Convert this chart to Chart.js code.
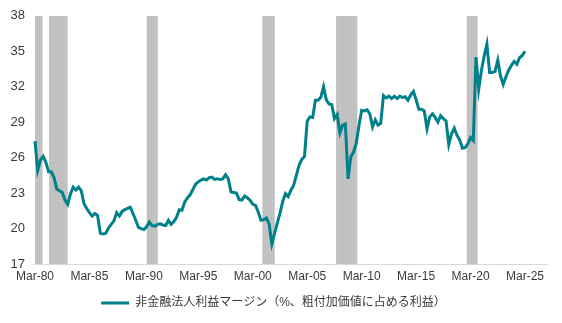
<!DOCTYPE html>
<html>
<head>
<meta charset="utf-8">
<script src="https://cdn.jsdelivr.net/npm/chart.js@4/dist/chart.umd.min.js"></script>
<style>
    body { margin: 0; background: #ffffff; }
    #marginChart { display: block; }
</style>
</head>
<body>
<canvas id="marginChart" width="562" height="323"></canvas>
<script>
// Quarterly series, first point is Mar-80 (1980 Q1)
const startYear = 1980;
const profitMargin = [
    27.4, 24.95, 25.8, 26.1, 25.6, 24.8, 24.8, 24.3, 23.35, 23.2,
    23.05, 22.4, 22.05, 22.9, 23.5, 23.25, 23.5, 23.2, 22.1, 21.7,
    21.35, 21.05, 21.27, 21.1, 19.6, 19.55, 19.6, 20.05, 20.35, 20.65,
    21.35, 21.05, 21.45, 21.6, 21.7, 21.8, 21.27, 20.7, 20.1, 20.0,
    19.92, 20.15, 20.55, 20.25, 20.2, 20.35, 20.4, 20.3, 20.25, 20.7,
    20.35, 20.6, 20.95, 21.6, 21.55, 22.25, 22.6, 22.85, 23.3, 23.75,
    23.95, 24.1, 24.2, 24.1, 24.3, 24.35, 24.15, 24.2, 24.15, 24.2,
    24.55, 24.2, 23.1, 23.05, 23.0, 22.45, 22.4, 22.75, 22.6, 22.4,
    22.05, 21.95, 21.4, 20.7, 20.75, 20.9, 20.4, 18.7, 19.6, 20.45,
    21.3, 22.3, 22.95, 22.7, 23.25, 23.65, 24.5, 25.35, 25.85, 26.1,
    29.1, 29.45, 29.4, 30.85, 30.85, 31.1, 32.0, 30.9, 30.55, 30.5,
    29.3, 29.65, 28.1, 28.75, 28.85, 24.2, 26.05, 26.45, 27.2, 28.7,
    30.0, 29.95, 30.05, 29.7, 28.6, 29.2, 28.75, 28.9, 31.25, 31.05,
    31.2, 31.0, 31.2, 31.0, 31.2, 31.1, 31.15, 30.85, 31.3, 31.6,
    30.9, 30.1, 30.1, 29.95, 28.45, 29.45, 29.7, 29.4, 29.0, 29.55,
    29.3, 29.1, 27.1, 28.0, 28.5, 27.9, 27.5, 26.8, 26.85, 27.15,
    27.7, 27.45, 34.5, 31.8, 33.4, 34.6, 35.6, 33.2, 33.2, 33.3,
    34.25, 32.9, 32.2, 32.85, 33.4, 33.8, 34.15, 33.9, 34.45, 34.65,
    35.0
];

// Recession periods (shaded), start and end in years
const recessionStart = [1980.0, 1981.29, 1990.26, 2000.88, 2007.65, 2019.65];
const recessionEnd = [1980.7, 1983.0, 1991.27, 2002.02, 2009.6, 2020.66];

// Axis ticks
const xTickYears = [1980, 1985, 1990, 1995, 2000, 2005, 2010, 2015, 2020, 2025];
const xTickLabels = ['Mar-80', 'Mar-85', 'Mar-90', 'Mar-95', 'Mar-00', 'Mar-05', 'Mar-10', 'Mar-15', 'Mar-20', 'Mar-25'];
const yTicks = [17, 20, 23, 26, 29, 32, 35, 38];

const seriesLabel = '非金融法人利益マージン（%、粗付加価値に占める利益）';
const yMin = 17;
const yMax = 38;

// Build points for the line
const marginPoints = profitMargin.map((v, i) => ({ x: startYear + i / 4, y: v }));

// Build shaded bands as an outline filled down to the axis
const recessionPoints = [];
recessionStart.forEach((start, i) => {
    const end = recessionEnd[i];
    recessionPoints.push({ x: start, y: yMin });
    recessionPoints.push({ x: start, y: yMax });
    recessionPoints.push({ x: end, y: yMax });
    recessionPoints.push({ x: end, y: yMin });
});

// Lightly dotted grey fill like the original shading
const patternCanvas = document.createElement('canvas');
patternCanvas.width = 2;
patternCanvas.height = 2;
const pctx = patternCanvas.getContext('2d');
pctx.fillStyle = '#bfbfbf';
pctx.fillRect(0, 0, 2, 2);
pctx.fillStyle = '#c8c8c8';
pctx.fillRect(0, 0, 1, 1);
const ctx = document.getElementById('marginChart').getContext('2d');
const recessionFill = ctx.createPattern(patternCanvas, 'repeat');

const tealColor = '#00818a';
const textColor = '#3a3a3a';

const config = {
    type: 'line',
    data: {
        datasets: [{
            label: seriesLabel,
            data: marginPoints,
            borderColor: tealColor,
            backgroundColor: tealColor,
            borderWidth: 3,
            pointRadius: 0,
            tension: 0,
            fill: false,
            order: 1
        }, {
            label: 'recession',
            data: recessionPoints,
            borderColor: 'rgba(0,0,0,0)',
            backgroundColor: recessionFill,
            borderWidth: 0,
            pointRadius: 0,
            tension: 0,
            fill: 'start',
            order: 2
        }]
    },
    options: {
        responsive: false,
        animation: false,
        devicePixelRatio: 1,
        layout: {
            padding: { top: 15, right: 15, bottom: 4, left: 0 }
        },
        plugins: {
            legend: {
                display: true,
                position: 'bottom',
                labels: {
                    filter: item => item.text !== 'recession',
                    usePointStyle: true,
                    pointStyle: 'line',
                    pointStyleWidth: 28,
                    color: textColor,
                    padding: 10,
                    font: { size: 12, family: "'Liberation Sans', 'Noto Sans CJK JP', sans-serif" }
                }
            },
            tooltip: { enabled: false }
        },
        scales: {
            x: {
                type: 'linear',
                min: startYear - 2 / 10.888,
                max: 2027.02,
                afterBuildTicks: scale => {
                    scale.ticks = xTickYears.map(v => ({ value: v }));
                },
                afterFit: scale => {
                    scale.height = 23;
                },
                ticks: {
                    autoSkip: false,
                    maxRotation: 0,
                    padding: 5,
                    color: textColor,
                    font: { size: 12, family: "'Liberation Sans', Arial, sans-serif" },
                    callback: (value, index) => xTickLabels[index]
                },
                grid: { display: false, drawTicks: false },
                border: { display: true, color: '#d9d9d9', width: 1 }
            },
            y: {
                min: yMin,
                max: yMax,
                afterBuildTicks: scale => {
                    scale.ticks = yTicks.map(v => ({ value: v }));
                },
                afterFit: scale => {
                    scale.width = 33;
                },
                ticks: {
                    padding: 8,
                    color: textColor,
                    font: { size: 13, family: "'Liberation Sans', Arial, sans-serif" },
                    callback: value => value
                },
                grid: { display: false, drawTicks: false },
                border: { display: false }
            }
        }
    }
};

// Render the chart
const marginChart = new Chart(ctx, config);
</script>
</body>
</html>
